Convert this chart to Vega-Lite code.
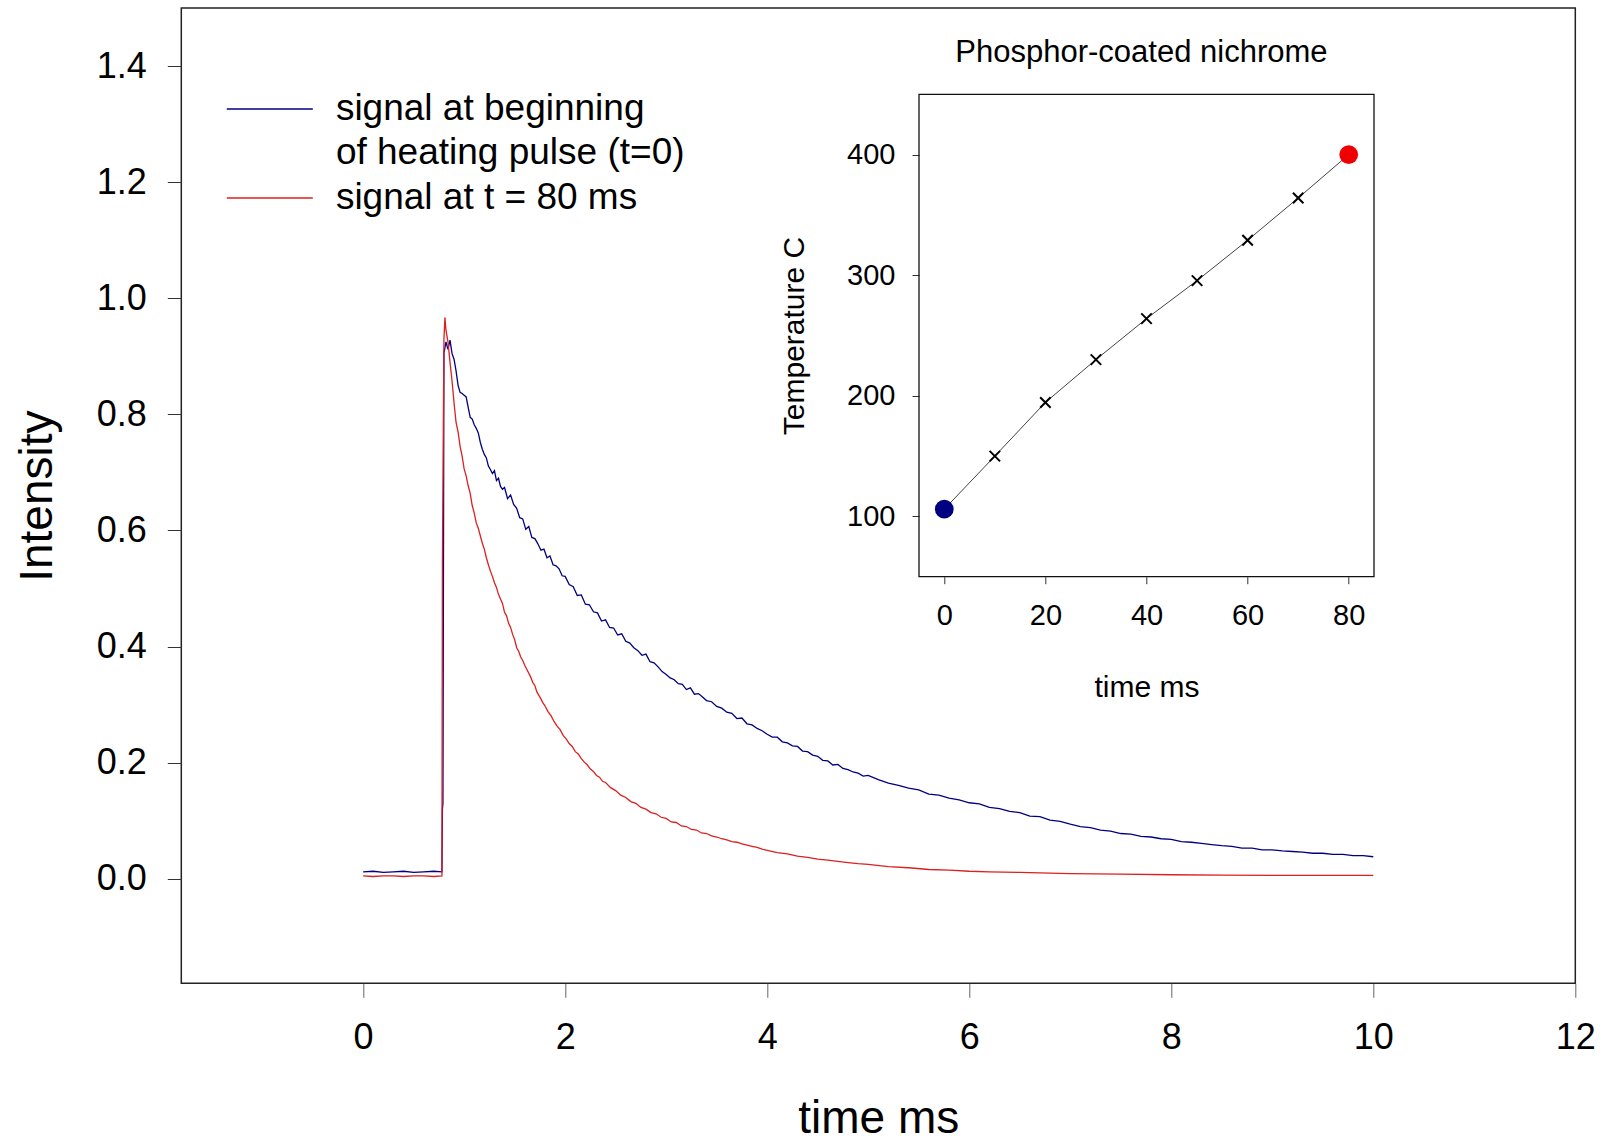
{
"$schema": "https://vega.github.io/schema/vega-lite/v6.json",
"width": 1394, "height": 975.3,
"autosize": {"type": "none"},
"padding": {"left": 181.3, "top": 8, "right": 29.7, "bottom": 158.7},
"background": "white",
"config": {
  "font": "Liberation Sans",
  "view": {"stroke": "#222", "strokeWidth": 1.5},
  "axis": {"grid": false, "labelColor": "#000", "titleColor": "#000", "titleFontWeight": "normal", "labelFont": "Liberation Sans", "titleFont": "Liberation Sans", "labelFlush": false}
},
"datasets": {
"sig": [
{"s":"t0","t":0,"v":0.012},{"s":"t0","t":0.1,"v":0.013},{"s":"t0","t":0.2,"v":0.011},{"s":"t0","t":0.3,"v":0.012},{"s":"t0","t":0.4,"v":0.013},{"s":"t0","t":0.5,"v":0.011},{"s":"t0","t":0.6,"v":0.012},{"s":"t0","t":0.7,"v":0.013},{"s":"t0","t":0.78,"v":0.012},
{"s":"t0","t":0.785,"v":0.12},{"s":"t0","t":0.79,"v":0.13},{"s":"t0","t":0.8,"v":0.905},{"s":"t0","t":0.82,"v":0.925},{"s":"t0","t":0.84,"v":0.912},{"s":"t0","t":0.86,"v":0.928},{"s":"t0","t":0.88,"v":0.905},{"s":"t0","t":0.9,"v":0.895},{"s":"t0","t":0.92,"v":0.875},{"s":"t0","t":0.94,"v":0.85},{"s":"t0","t":0.96,"v":0.838},{"s":"t0","t":0.98,"v":0.836},
{"s":"t0","t":1.0,"v":0.833},{"s":"t0","t":1.02,"v":0.83},{"s":"t0","t":1.04,"v":0.812},{"s":"t0","t":1.06,"v":0.795},{"s":"t0","t":1.08,"v":0.792},{"s":"t0","t":1.1,"v":0.782},{"s":"t0","t":1.12,"v":0.776},{"s":"t0","t":1.14,"v":0.768},{"s":"t0","t":1.16,"v":0.752},{"s":"t0","t":1.18,"v":0.74},{"s":"t0","t":1.2,"v":0.731},{"s":"t0","t":1.22,"v":0.725},{"s":"t0","t":1.24,"v":0.711},{"s":"t0","t":1.26,"v":0.705},{"s":"t0","t":1.28,"v":0.698},{"s":"t0","t":1.3,"v":0.703},{"s":"t0","t":1.32,"v":0.686},{"s":"t0","t":1.34,"v":0.69},{"s":"t0","t":1.36,"v":0.676},{"s":"t0","t":1.38,"v":0.671},{"s":"t0","t":1.4,"v":0.674},
{"s":"t0","t":1.43,"v":0.655},{"s":"t0","t":1.46,"v":0.661},{"s":"t0","t":1.49,"v":0.645},{"s":"t0","t":1.52,"v":0.638},{"s":"t0","t":1.55,"v":0.622},{"s":"t0","t":1.58,"v":0.62},{"s":"t0","t":1.61,"v":0.602},{"s":"t0","t":1.64,"v":0.607},{"s":"t0","t":1.67,"v":0.588},{"s":"t0","t":1.7,"v":0.586},{"s":"t0","t":1.73,"v":0.577},{"s":"t0","t":1.76,"v":0.566},{"s":"t0","t":1.79,"v":0.568},{"s":"t0","t":1.82,"v":0.553},{"s":"t0","t":1.85,"v":0.556},{"s":"t0","t":1.88,"v":0.541},{"s":"t0","t":1.91,"v":0.539},{"s":"t0","t":1.94,"v":0.534},{"s":"t0","t":1.97,"v":0.522},{"s":"t0","t":2.0,"v":0.521},
{"s":"t0","t":2.04,"v":0.507},{"s":"t0","t":2.08,"v":0.503},{"s":"t0","t":2.12,"v":0.488},{"s":"t0","t":2.16,"v":0.489},{"s":"t0","t":2.2,"v":0.473},{"s":"t0","t":2.24,"v":0.472},{"s":"t0","t":2.28,"v":0.46},{"s":"t0","t":2.32,"v":0.458},{"s":"t0","t":2.36,"v":0.444},{"s":"t0","t":2.4,"v":0.446},{"s":"t0","t":2.44,"v":0.433},{"s":"t0","t":2.48,"v":0.432},{"s":"t0","t":2.52,"v":0.42},{"s":"t0","t":2.56,"v":0.422},{"s":"t0","t":2.6,"v":0.409},{"s":"t0","t":2.64,"v":0.406},{"s":"t0","t":2.68,"v":0.398},{"s":"t0","t":2.72,"v":0.393},{"s":"t0","t":2.76,"v":0.385},{"s":"t0","t":2.8,"v":0.387},{"s":"t0","t":2.84,"v":0.374},{"s":"t0","t":2.88,"v":0.372},{"s":"t0","t":2.92,"v":0.365},{"s":"t0","t":2.96,"v":0.357},
{"s":"t0","t":3.0,"v":0.352},{"s":"t0","t":3.04,"v":0.346},{"s":"t0","t":3.08,"v":0.343},{"s":"t0","t":3.12,"v":0.336},{"s":"t0","t":3.16,"v":0.335},{"s":"t0","t":3.2,"v":0.326},{"s":"t0","t":3.24,"v":0.329},{"s":"t0","t":3.28,"v":0.318},{"s":"t0","t":3.32,"v":0.319},{"s":"t0","t":3.36,"v":0.313},{"s":"t0","t":3.4,"v":0.307},{"s":"t0","t":3.45,"v":0.305},{"s":"t0","t":3.5,"v":0.297},{"s":"t0","t":3.55,"v":0.294},{"s":"t0","t":3.6,"v":0.287},{"s":"t0","t":3.65,"v":0.285},{"s":"t0","t":3.7,"v":0.276},{"s":"t0","t":3.75,"v":0.277},{"s":"t0","t":3.8,"v":0.267},{"s":"t0","t":3.85,"v":0.265},{"s":"t0","t":3.9,"v":0.259},{"s":"t0","t":3.95,"v":0.255},
{"s":"t0","t":4.0,"v":0.249},{"s":"t0","t":4.05,"v":0.244},{"s":"t0","t":4.1,"v":0.244},{"s":"t0","t":4.15,"v":0.236},{"s":"t0","t":4.2,"v":0.234},{"s":"t0","t":4.25,"v":0.229},{"s":"t0","t":4.3,"v":0.228},{"s":"t0","t":4.35,"v":0.22},{"s":"t0","t":4.4,"v":0.219},{"s":"t0","t":4.45,"v":0.213},{"s":"t0","t":4.5,"v":0.211},{"s":"t0","t":4.55,"v":0.204},{"s":"t0","t":4.6,"v":0.203},{"s":"t0","t":4.65,"v":0.196},{"s":"t0","t":4.7,"v":0.197},{"s":"t0","t":4.75,"v":0.19},{"s":"t0","t":4.8,"v":0.188},{"s":"t0","t":4.85,"v":0.184},{"s":"t0","t":4.9,"v":0.182},{"s":"t0","t":4.95,"v":0.177},
{"s":"t0","t":5.0,"v":0.178},{"s":"t0","t":5.1,"v":0.171},{"s":"t0","t":5.2,"v":0.165},{"s":"t0","t":5.3,"v":0.161},{"s":"t0","t":5.4,"v":0.156},{"s":"t0","t":5.5,"v":0.153},{"s":"t0","t":5.6,"v":0.146},{"s":"t0","t":5.7,"v":0.144},{"s":"t0","t":5.8,"v":0.139},{"s":"t0","t":5.9,"v":0.136},{"s":"t0","t":6.0,"v":0.131},{"s":"t0","t":6.1,"v":0.129},{"s":"t0","t":6.2,"v":0.123},{"s":"t0","t":6.3,"v":0.121},{"s":"t0","t":6.4,"v":0.116},{"s":"t0","t":6.5,"v":0.114},{"s":"t0","t":6.6,"v":0.108},{"s":"t0","t":6.7,"v":0.107},{"s":"t0","t":6.8,"v":0.101},{"s":"t0","t":6.9,"v":0.099},
{"s":"t0","t":7.0,"v":0.094},{"s":"t0","t":7.1,"v":0.09},{"s":"t0","t":7.2,"v":0.088},{"s":"t0","t":7.3,"v":0.084},{"s":"t0","t":7.4,"v":0.082},{"s":"t0","t":7.5,"v":0.078},{"s":"t0","t":7.6,"v":0.077},{"s":"t0","t":7.7,"v":0.073},{"s":"t0","t":7.8,"v":0.072},{"s":"t0","t":7.9,"v":0.069},{"s":"t0","t":8.0,"v":0.068},{"s":"t0","t":8.1,"v":0.064},{"s":"t0","t":8.2,"v":0.063},{"s":"t0","t":8.3,"v":0.061},{"s":"t0","t":8.4,"v":0.059},{"s":"t0","t":8.5,"v":0.057},{"s":"t0","t":8.6,"v":0.056},{"s":"t0","t":8.7,"v":0.053},{"s":"t0","t":8.8,"v":0.053},{"s":"t0","t":8.9,"v":0.05},
{"s":"t0","t":9.0,"v":0.05},{"s":"t0","t":9.1,"v":0.048},{"s":"t0","t":9.2,"v":0.047},{"s":"t0","t":9.3,"v":0.046},{"s":"t0","t":9.4,"v":0.044},{"s":"t0","t":9.5,"v":0.044},{"s":"t0","t":9.6,"v":0.042},{"s":"t0","t":9.7,"v":0.042},{"s":"t0","t":9.8,"v":0.04},{"s":"t0","t":9.9,"v":0.04},{"s":"t0","t":10.0,"v":0.038},
{"s":"t80","t":0,"v":0.005},{"s":"t80","t":0.1,"v":0.004},{"s":"t80","t":0.2,"v":0.005},{"s":"t80","t":0.3,"v":0.005},{"s":"t80","t":0.4,"v":0.004},{"s":"t80","t":0.5,"v":0.005},{"s":"t80","t":0.6,"v":0.005},{"s":"t80","t":0.7,"v":0.004},{"s":"t80","t":0.78,"v":0.005},
{"s":"t80","t":0.785,"v":0.55},{"s":"t80","t":0.8,"v":0.93},{"s":"t80","t":0.81,"v":0.967},{"s":"t80","t":0.82,"v":0.945},{"s":"t80","t":0.84,"v":0.925},{"s":"t80","t":0.86,"v":0.89},{"s":"t80","t":0.88,"v":0.858},{"s":"t80","t":0.9,"v":0.82},{"s":"t80","t":0.92,"v":0.786},{"s":"t80","t":0.94,"v":0.77},{"s":"t80","t":0.96,"v":0.745},{"s":"t80","t":0.98,"v":0.728},
{"s":"t80","t":1.0,"v":0.706},{"s":"t80","t":1.02,"v":0.694},{"s":"t80","t":1.04,"v":0.677},{"s":"t80","t":1.06,"v":0.664},{"s":"t80","t":1.08,"v":0.643},{"s":"t80","t":1.1,"v":0.63},{"s":"t80","t":1.12,"v":0.613},{"s":"t80","t":1.14,"v":0.604},{"s":"t80","t":1.16,"v":0.591},{"s":"t80","t":1.18,"v":0.578},{"s":"t80","t":1.2,"v":0.568},{"s":"t80","t":1.22,"v":0.553},{"s":"t80","t":1.24,"v":0.541},{"s":"t80","t":1.26,"v":0.53},{"s":"t80","t":1.28,"v":0.521},{"s":"t80","t":1.3,"v":0.51},{"s":"t80","t":1.32,"v":0.502},{"s":"t80","t":1.34,"v":0.49},{"s":"t80","t":1.36,"v":0.482},{"s":"t80","t":1.38,"v":0.474},{"s":"t80","t":1.4,"v":0.459},
{"s":"t80","t":1.42,"v":0.453},{"s":"t80","t":1.44,"v":0.44},{"s":"t80","t":1.46,"v":0.433},{"s":"t80","t":1.48,"v":0.421},{"s":"t80","t":1.5,"v":0.412},{"s":"t80","t":1.52,"v":0.398},{"s":"t80","t":1.54,"v":0.392},{"s":"t80","t":1.56,"v":0.382},{"s":"t80","t":1.58,"v":0.376},{"s":"t80","t":1.6,"v":0.368},{"s":"t80","t":1.62,"v":0.361},{"s":"t80","t":1.64,"v":0.354},{"s":"t80","t":1.66,"v":0.347},{"s":"t80","t":1.68,"v":0.338},{"s":"t80","t":1.7,"v":0.333},{"s":"t80","t":1.72,"v":0.322},{"s":"t80","t":1.74,"v":0.316},{"s":"t80","t":1.76,"v":0.31},{"s":"t80","t":1.78,"v":0.303},{"s":"t80","t":1.8,"v":0.298},
{"s":"t80","t":1.83,"v":0.288},{"s":"t80","t":1.86,"v":0.281},{"s":"t80","t":1.89,"v":0.271},{"s":"t80","t":1.92,"v":0.263},{"s":"t80","t":1.95,"v":0.257},{"s":"t80","t":1.98,"v":0.247},{"s":"t80","t":2.01,"v":0.241},{"s":"t80","t":2.04,"v":0.233},{"s":"t80","t":2.07,"v":0.228},{"s":"t80","t":2.1,"v":0.219},{"s":"t80","t":2.13,"v":0.215},{"s":"t80","t":2.16,"v":0.207},{"s":"t80","t":2.19,"v":0.201},{"s":"t80","t":2.22,"v":0.196},{"s":"t80","t":2.25,"v":0.189},{"s":"t80","t":2.28,"v":0.185},{"s":"t80","t":2.31,"v":0.178},{"s":"t80","t":2.34,"v":0.175},{"s":"t80","t":2.37,"v":0.168},{"s":"t80","t":2.4,"v":0.166},{"s":"t80","t":2.45,"v":0.157},{"s":"t80","t":2.5,"v":0.152},{"s":"t80","t":2.55,"v":0.144},{"s":"t80","t":2.6,"v":0.140},
{"s":"t80","t":2.65,"v":0.133},{"s":"t80","t":2.7,"v":0.130},{"s":"t80","t":2.75,"v":0.123},{"s":"t80","t":2.8,"v":0.120},{"s":"t80","t":2.85,"v":0.114},{"s":"t80","t":2.9,"v":0.112},{"s":"t80","t":2.95,"v":0.106},{"s":"t80","t":3.0,"v":0.104},{"s":"t80","t":3.05,"v":0.098},{"s":"t80","t":3.1,"v":0.097},{"s":"t80","t":3.15,"v":0.091},{"s":"t80","t":3.2,"v":0.090},{"s":"t80","t":3.25,"v":0.085},{"s":"t80","t":3.3,"v":0.084},{"s":"t80","t":3.35,"v":0.079},{"s":"t80","t":3.4,"v":0.078},{"s":"t80","t":3.45,"v":0.074},{"s":"t80","t":3.5,"v":0.072},{"s":"t80","t":3.55,"v":0.069},{"s":"t80","t":3.6,"v":0.067},{"s":"t80","t":3.65,"v":0.064},{"s":"t80","t":3.7,"v":0.063},{"s":"t80","t":3.75,"v":0.060},{"s":"t80","t":3.8,"v":0.058},{"s":"t80","t":3.85,"v":0.056},{"s":"t80","t":3.9,"v":0.054},{"s":"t80","t":3.95,"v":0.051},
{"s":"t80","t":4.0,"v":0.049},{"s":"t80","t":4.1,"v":0.045},{"s":"t80","t":4.2,"v":0.043},{"s":"t80","t":4.3,"v":0.039},{"s":"t80","t":4.4,"v":0.037},{"s":"t80","t":4.5,"v":0.034},{"s":"t80","t":4.6,"v":0.032},{"s":"t80","t":4.7,"v":0.030},{"s":"t80","t":4.8,"v":0.028},{"s":"t80","t":4.9,"v":0.026},{"s":"t80","t":5.0,"v":0.025},{"s":"t80","t":5.2,"v":0.021},{"s":"t80","t":5.4,"v":0.019},{"s":"t80","t":5.6,"v":0.016},{"s":"t80","t":5.8,"v":0.015},{"s":"t80","t":6.0,"v":0.013},{"s":"t80","t":6.2,"v":0.012},{"s":"t80","t":6.5,"v":0.011},{"s":"t80","t":7.0,"v":0.009},{"s":"t80","t":7.5,"v":0.008},{"s":"t80","t":8.0,"v":0.007},{"s":"t80","t":8.5,"v":0.0065},{"s":"t80","t":9.0,"v":0.006},{"s":"t80","t":9.5,"v":0.006},{"s":"t80","t":10.0,"v":0.006}
],
"calib": [
{"time":0,"temp":106,"marker":"start"},
{"time":10,"temp":150,"marker":"x"},
{"time":20,"temp":194.5,"marker":"x"},
{"time":30,"temp":230,"marker":"x"},
{"time":40,"temp":264,"marker":"x"},
{"time":50,"temp":295.5,"marker":"x"},
{"time":60,"temp":329,"marker":"x"},
{"time":70,"temp":364,"marker":"x"},
{"time":80,"temp":400,"marker":"end"}
]
},
"layer": [
  {
    "data": {"name": "sig"},
    "mark": {"type": "line", "strokeWidth": 1.3},
    "encoding": {
      "x": {"field": "t", "type": "quantitative",
        "scale": {"domain": [-1.8, 12], "nice": false, "zero": false},
        "axis": {"orient": "bottom", "values": [0,2,4,6,8,10,12], "format": "d", "domain": false, "tickSize": 14, "tickColor": "#666", "labelFontSize": 36, "labelPadding": 23, "title": "time ms", "titleFontSize": 46, "titlePadding": 41}},
      "y": {"field": "v", "type": "quantitative",
        "scale": {"domain": [-0.18, 1.5], "nice": false, "zero": false},
        "axis": {"orient": "left", "values": [0,0.2,0.4,0.6,0.8,1.0,1.2,1.4], "format": ".1f", "domain": false, "tickSize": 14, "tickColor": "#333", "labelFontSize": 36, "labelPadding": 21, "title": "Intensity", "titleFontSize": 46, "titlePadding": 35}},
      "color": {"field": "s", "type": "nominal",
        "scale": {"domain": ["t0", "t80"], "range": ["#000080", "#dc1f1f"]},
        "legend": {"orient": "none", "legendX": 70, "legendY": 82.4, "title": null, "padding": 0,
          "symbolType": "M-3,0H3", "symbolSize": 822, "symbolStrokeWidth": 1.5, "symbolFillColor": "transparent",
          "labelFontSize": 37, "labelFont": "Liberation Sans", "labelColor": "#000", "labelOffset": 47.6, "labelLimit": 1000,
          "labelBaseline": "line-top", "rowPadding": 7,
          "labelExpr": "datum.value == 't0' ? ['signal at beginning', 'of heating pulse (t=0)'] : 'signal at t = 80 ms'",
          "encode": {"labels": {"update": {"dy": {"value": -22}, "lineHeight": {"value": 44}}}}}}
    }
  },
  {
    "data": {"name": "calib"},
    "encoding": {
      "x": {"field": "time", "type": "quantitative",
        "scale": {"domain": [-5, 85], "range": [737.7, 1192.7], "nice": false, "zero": false},
        "axis": {"orient": "bottom", "offset": -406.6, "values": [0,20,40,60,80], "domain": false, "tickSize": 7, "tickColor": "#333", "labelFontSize": 29, "labelPadding": 18, "title": "time ms", "titleFontSize": 30, "titlePadding": 42}},
      "y": {"field": "temp", "type": "quantitative",
        "scale": {"domain": [50, 450], "range": [568.7, 86.3], "nice": false, "zero": false},
        "axis": {"orient": "left", "offset": -737.7, "values": [100,200,300,400], "domain": false, "tickSize": 7, "tickColor": "#333", "labelFontSize": 29, "labelPadding": 17, "title": "Temperature C", "titleFontSize": 30, "titlePadding": 37}}
    },
    "layer": [
      {
        "transform": [{"filter": "datum.marker == 'end'"}],
        "mark": {"type": "rect", "filled": false, "fill": "transparent", "stroke": "#111", "strokeWidth": 1.3},
        "encoding": {"x": {"datum": -5}, "x2": {"datum": 85}, "y": {"datum": 50}, "y2": {"datum": 450}}
      },
      {
        "mark": {"type": "line", "color": "#444", "strokeWidth": 1}
      },
      {
        "transform": [{"filter": "datum.marker == 'x'"}],
        "mark": {"type": "point", "shape": "M-1,-1L1,1M1,-1L-1,1", "filled": false, "stroke": "#000", "strokeWidth": 2, "size": 110, "opacity": 1}
      },
      {
        "transform": [{"filter": "datum.marker != 'x'"}],
        "mark": {"type": "circle", "size": 350, "opacity": 1},
        "encoding": {"color": {"field": "marker", "type": "nominal", "scale": {"domain": ["start", "end"], "range": ["#000080", "#f00000"]}, "legend": null}}
      },
      {
        "transform": [{"filter": "datum.marker == 'end'"}],
        "mark": {"type": "text", "text": "Phosphor-coated nichrome", "fontSize": 31, "font": "Liberation Sans", "color": "#000", "baseline": "middle", "align": "center"},
        "encoding": {"x": {"datum": 39}, "y": {"datum": 484}}
      }
    ]
  }
],
"resolve": {"scale": {"x": "independent", "y": "independent", "color": "independent"}, "axis": {"x": "independent", "y": "independent"}}
}
